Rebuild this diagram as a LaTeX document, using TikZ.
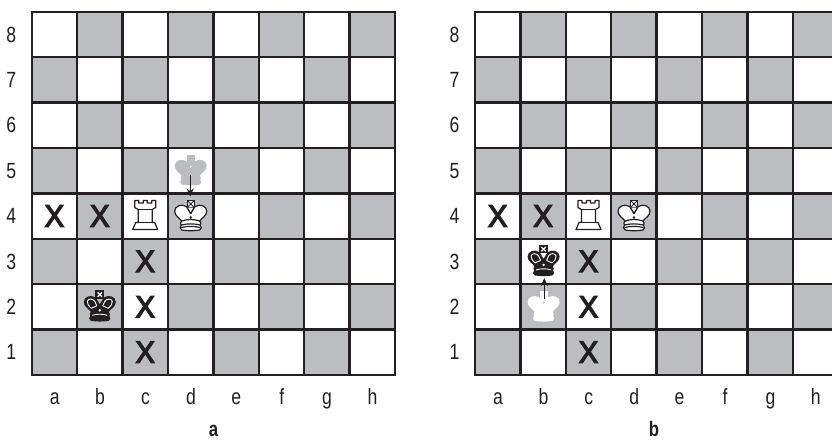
\documentclass[tikz,border=0pt]{standalone}
\usepackage{fontspec}
\setmainfont[FakeStretch=0.8]{Liberation Sans}
\newfontfamily\xfont[FakeStretch=0.95,FakeBold=4]{Liberation Sans}
\usetikzlibrary{arrows.meta}
\definecolor{boardgray}{HTML}{BBBDC0}
\definecolor{inkblack}{HTML}{231F20}
\newcommand{\kingoutline}{(-9,5) .. controls (-11.5,1.5) and (-16,0) .. (-16,-5) .. controls (-16,-10) and (-9,-12.5) .. (-4.5,-9.5) -- (-3.5,-8.5) -- (0,-2.5) -- (3.5,-8.5) -- (4.5,-9.5) .. controls (9,-12.5) and (16,-10) .. (16,-5) .. controls (16,0) and (11.5,1.5) .. (9,5) .. controls (11,6.5) and (10,8) .. (9.5,9) .. controls (11,10.5) and (11,13) .. (9,14) .. controls (3,15) and (-3,15) .. (-9,14) .. controls (-11,13) and (-11,10.5) .. (-9.5,9) .. controls (-10,8) and (-11,6.5) .. (-9,5) -- cycle}
\tikzset{
  x=1pt,y=-1pt,
  every node/.style={inner sep=0,outer sep=0,text=inkblack},
  lbl/.style={font=\fontsize{22}{22}\selectfont},
  mark X/.style={font=\xfont\fontsize{31}{31}\selectfont},
  caption/.style={font=\bfseries\fontsize{21}{21}\selectfont},
  ink/.style={draw=inkblack,line width=1.2pt,line join=round},
  move arrow/.style={draw=inkblack,line width=1.2pt,-{Stealth[length=8pt,width=7pt]}},
  whiteking/.pic={
    \path[ink,fill=white] \kingoutline;
    \path[ink,fill=white] (-3.5,-15.5) rectangle (3.5,-8.5);
    \draw[inkblack,line width=0.8pt] (-3.5,-15.5) -- (3.5,-8.5) (3.5,-15.5) -- (-3.5,-8.5);
    \path[ink,fill=white] (-3.5,-8.5) -- (0,-2.5) -- (3.5,-8.5);
    \draw[ink] (-9,5) .. controls (-3,3) and (3,3) .. (9,5);
    \draw[ink] (-9.5,9) .. controls (-3,7.5) and (3,7.5) .. (9.5,9);
    \draw[ink] (-9.5,11.5) .. controls (-3,10) and (3,10) .. (9.5,11.5);
    \fill[inkblack] (0,1.5) circle (1.4);
  },
  blackking/.pic={
    \fill[inkblack] \kingoutline;
    \fill[inkblack] (-4.5,-16.5) rectangle (4.5,-8);
    \draw[white,line width=1.2pt] (-2.2,-14.4) -- (2.2,-10) (2.2,-14.4) -- (-2.2,-10);
    \draw[white,line width=0.9pt] (-8.5,1.5) .. controls (-11,-1) and (-13,-3) .. (-12.5,-5.5) .. controls (-11.5,-8.5) and (-7,-8.5) .. (-5,-5.5) -- (-3,-1);
    \draw[white,line width=0.9pt] (8.5,1.5) .. controls (11,-1) and (13,-3) .. (12.5,-5.5) .. controls (11.5,-8.5) and (7,-8.5) .. (5,-5.5) -- (3,-1);
    \draw[white,line width=0.9pt] (-8.5,1.5) .. controls (-7,0.8) and (-6,0.5) .. (-3,-1);
    \draw[white,line width=0.9pt] (8.5,1.5) .. controls (7,0.8) and (6,0.5) .. (3,-1);
    \draw[white,line width=0.9pt] (-7.5,8.5) .. controls (-3,7) and (3,7) .. (7.5,8.5);
    \fill[white] (0,3.5) circle (1.3);
  },
  ghostking/.pic={
    \fill[pic actions] \kingoutline;
    \fill[pic actions] (-4,-16) rectangle (4,-5);
  },
  whiterook/.pic={
    \path[ink,fill=white] (-10.5,-15.5) -- (-6.5,-15.5) -- (-6.5,-13) -- (-2,-13) -- (-2,-15.5) -- (2,-15.5) -- (2,-13) -- (6.5,-13) -- (6.5,-15.5) -- (10.5,-15.5) -- (10.5,-8.5) -- (7,-6.5) -- (7,6.5) -- (9.5,6.5) -- (12.5,13.5) -- (-12.5,13.5) -- (-9.5,6.5) -- (-7,6.5) -- (-7,-6.5) -- (-10.5,-8.5) -- cycle;
    \draw[ink] (-7,-6.5) -- (7,-6.5) (-7,6.5) -- (7,6.5);
  },
  pics/board/.style={code={
    \fill[white] (0,0) rectangle (363.2,363.2);
    \foreach \c in {0,...,7}{\foreach \r in {0,...,7}{
      \pgfmathparse{int(mod(\c+\r,2))}
      \ifnum\pgfmathresult=1 \fill[boardgray] (\c*45.4,\r*45.4) rectangle ++(45.4,45.4);\fi
    }}
    \foreach \i in {0,...,8}{
      \draw[inkblack,line width=2.4pt] (\i*45.4,-1.2) -- (\i*45.4,364.4);
      \draw[inkblack,line width=2.4pt] (-1.2,\i*45.4) -- (364.4,\i*45.4);
    }
    \foreach \r [evaluate=\r as \y using (8-\r)*45.4+22.7] in {1,...,8}
      \node[lbl,anchor=base] at (-20.5,\y+7.6) {\r};
    \foreach \l [count=\n from 0] in {a,...,h}
      \node[lbl,anchor=base] at (\n*45.4+23,392.5) {\l};
  }}
}
\begin{document}
\begin{tikzpicture}
\useasboundingbox (0,0) rectangle (832,440);
% left board
\pic at (31.7,11.7) {board};
\node[caption,anchor=base] (capa) at (213.5,436.5) {a};
\foreach \nm/\x/\y in {xa/54.4/216,xb/99.8/216,xc/145.2/261.4,xd/145.2/306.8,xe/145.2/352.2}
  \node[mark X] (\nm) at (\x,\y) {X};
\pic at (145.2,216) {whiterook};
\pic[fill=boardgray] at (190.7,170.6) {ghostking};
\pic at (190.7,216) {whiteking};
\pic at (99.8,306.8) {blackking};
\coordinate (afrom) at (190.2,175);
\coordinate (ato) at (190.2,196.5);
\draw[move arrow] (afrom) -- (ato);
% right board
\pic at (475,11.7) {board};
\node[caption,anchor=base] (capb) at (654,436.5) {b};
\foreach \nm/\x/\y in {ya/497.7/216,yb/543.1/216,yc/588.5/261.4,yd/588.5/306.8,ye/588.5/352.2}
  \node[mark X] (\nm) at (\x,\y) {X};
\pic at (588.5,216) {whiterook};
\pic at (634,216) {whiteking};
\pic at (543.6,261.4) {blackking};
\pic[fill=white] at (543.6,306.8) {ghostking};
\coordinate (bfrom) at (544.3,299);
\coordinate (bto) at (544.3,278);
\draw[move arrow] (bfrom) -- (bto);
\end{tikzpicture}
\end{document}
